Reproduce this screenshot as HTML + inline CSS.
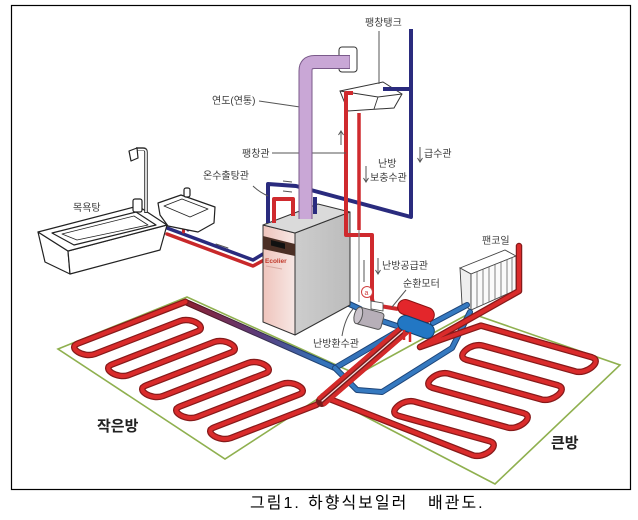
<!DOCTYPE html>
<html><head><meta charset="utf-8"><style>
html,body{margin:0;padding:0;background:#fff;}
svg{display:block;}
.lb{font-family:"Liberation Sans","Noto Sans CJK KR",sans-serif;font-size:10px;fill:#3a3a3a;}
.big{font-family:"Liberation Sans","Noto Sans CJK KR",sans-serif;font-size:15px;font-weight:bold;fill:#222;}
.cap{font-family:"Liberation Sans","Noto Sans CJK KR",sans-serif;font-size:16px;fill:#000;letter-spacing:2px;}
</style></head><body>
<svg width="638" height="520" viewBox="0 0 638 520" xmlns="http://www.w3.org/2000/svg">
<defs>
<linearGradient id="g1" gradientUnits="userSpaceOnUse" x1="185" y1="0" x2="335" y2="0">
<stop offset="0" stop-color="#8e2030"/><stop offset="0.5" stop-color="#5a3c7c"/><stop offset="0.9" stop-color="#3373ba"/></linearGradient>
<linearGradient id="g1d" gradientUnits="userSpaceOnUse" x1="185" y1="0" x2="335" y2="0">
<stop offset="0" stop-color="#5a1018"/><stop offset="0.9" stop-color="#1d4478"/></linearGradient>
<linearGradient id="front" x1="0" y1="0" x2="1" y2="0">
<stop offset="0" stop-color="#efc4bc"/><stop offset="1" stop-color="#f7e7e4"/></linearGradient>
<linearGradient id="side" x1="0" y1="0" x2="1" y2="0">
<stop offset="0" stop-color="#cdcdcd"/><stop offset="1" stop-color="#bcbcbc"/></linearGradient>
</defs>
<rect width="638" height="520" fill="#fff"/>
<rect x="11.5" y="5.5" width="619" height="484" fill="none" stroke="#000" stroke-width="1.2"/>

<!-- zones -->
<polygon points="58,349 187,297 356,374 225,459" fill="none" stroke="#8fb04f" stroke-width="1.6"/>
<polygon points="322,394 470,313 620,365 495,484" fill="none" stroke="#8fb04f" stroke-width="1.6"/>

<!-- radiator -->
<polygon points="460,268 505,250 516,256 471,274" fill="#fff" stroke="#444" stroke-width="0.9"/>
<polygon points="460,268 471,274 471,310 462,304" fill="#eee" stroke="#444" stroke-width="0.9"/>
<polygon points="471,274 516,256 516,290 471,310" fill="#fafafa" stroke="#444" stroke-width="0.9"/>
<path d="M477,271.6V307.3M483,269.2V304.7M489,266.8V302M495,264.4V299.3M501,262V296.7M507,259.6V294M512,257.6V291.8" stroke="#666" stroke-width="0.8"/>

<!-- lower blue pipes -->
<g fill="none" stroke-linejoin="round" stroke-linecap="round">
<path d="M185.5,302 L335,368 L400,330" stroke="url(#g1d)" stroke-width="6.2"/>
<path d="M185.5,302 L335,368 L400,330" stroke="url(#g1)" stroke-width="4.2"/>
<path d="M335,368 L357,390 L382,392 L452,348 L470,312" stroke="#1d4478" stroke-width="6"/>
<path d="M335,368 L357,390 L382,392 L452,348 L470,312" stroke="#3579c0" stroke-width="4"/>
<path d="M433,323 L467,305" stroke="#1d4478" stroke-width="6"/>
<path d="M433,323 L467,305" stroke="#3579c0" stroke-width="4"/>
<path d="M345,302 L360,309 M382,321 L400,327" stroke="#1d4478" stroke-width="6"/>
<path d="M345,302 L360,309 M382,321 L400,327" stroke="#3579c0" stroke-width="4"/>

<!-- serpentines -->
<path d="M185.5,301.8 L77.9,343.5 C66.7,347.8 83.7,358.3 94.9,354 L180.1,321 C191.3,316.7 208.3,327.2 197.1,331.5 L111.9,364.5 C100.7,368.8 117.7,379.3 128.9,375 L214.1,342 C225.3,337.7 242.3,348.2 231.1,352.5 L145.9,385.5 C134.7,389.8 151.7,400.3 162.9,396 L248.1,363 C259.3,358.7 276.3,369.2 265.1,373.5 L179.9,406.5 C168.7,410.8 185.7,421.3 196.9,417 L282.1,384 C293.3,379.7 310.3,390.2 299.1,394.5 L213.9,427.5 C202.7,431.8 219.7,442.3 230.9,438 L316.1,405 L327,398" stroke="#861a1a" stroke-width="6.5"/>
<path d="M185.5,301.8 L77.9,343.5 C66.7,347.8 83.7,358.3 94.9,354 L180.1,321 C191.3,316.7 208.3,327.2 197.1,331.5 L111.9,364.5 C100.7,368.8 117.7,379.3 128.9,375 L214.1,342 C225.3,337.7 242.3,348.2 231.1,352.5 L145.9,385.5 C134.7,389.8 151.7,400.3 162.9,396 L248.1,363 C259.3,358.7 276.3,369.2 265.1,373.5 L179.9,406.5 C168.7,410.8 185.7,421.3 196.9,417 L282.1,384 C293.3,379.7 310.3,390.2 299.1,394.5 L213.9,427.5 C202.7,431.8 219.7,442.3 230.9,438 L316.1,405 L327,398" stroke="#da2b2b" stroke-width="4"/>
<path d="M519,246 V291 L420,347 L481,325.6 L591.9,357.3 C603.3,361 586.3,375 574.9,371.3 L483.1,345.7 C471.7,342 454.7,356 466.1,359.7 L557.9,385.3 C569.3,389 552.3,403 540.9,399.3 L449.1,373.7 C437.7,370 420.7,384 432.1,387.7 L523.9,413.3 C535.3,417 518.3,431 506.9,427.3 L415.1,401.7 C403.7,398 386.7,412 398.1,415.7 L489.9,441.3 C501.3,445 484.3,459 472.9,455.3 L327,398" stroke="#861a1a" stroke-width="6.5"/>
<path d="M519,246 V291 L420,347 L481,325.6 L591.9,357.3 C603.3,361 586.3,375 574.9,371.3 L483.1,345.7 C471.7,342 454.7,356 466.1,359.7 L557.9,385.3 C569.3,389 552.3,403 540.9,399.3 L449.1,373.7 C437.7,370 420.7,384 432.1,387.7 L523.9,413.3 C535.3,417 518.3,431 506.9,427.3 L415.1,401.7 C403.7,398 386.7,412 398.1,415.7 L489.9,441.3 C501.3,445 484.3,459 472.9,455.3 L327,398" stroke="#da2b2b" stroke-width="4"/>

<!-- bundle -->
<path d="M322,401 L404,330" stroke="#7a1c1c" stroke-width="12"/>
<path d="M319.3,398 L401.3,327" stroke="#d42a2a" stroke-width="4"/>
<path d="M324.7,404 L406.7,333" stroke="#d42a2a" stroke-width="4"/>
<path d="M322,401 L404,330" stroke="#f6e2e2" stroke-width="1.2"/>

<!-- bathroom pipes -->
<path d="M263,254 L253,260 L167,228" stroke="#2a2b7e" stroke-width="3.5"/>
<path d="M264,260 L253,266 L167,234" stroke="#c8282a" stroke-width="3.5"/>
<path d="M188,230 V216" stroke="#2a2b7e" stroke-width="3"/>
<path d="M183.5,232 V216" stroke="#c8282a" stroke-width="3"/>
<path d="M216,244 L228,248" stroke="#555" stroke-width="1"/>
</g>

<!-- bathtub -->
<g fill="#fff" stroke="#222" stroke-width="1.2" stroke-linejoin="round">
<polygon points="38,232 68,251 70,274 45,262"/>
<polygon points="68,251 167,225 160,250 70,274"/>
<polygon points="38,232 138,206 167,225 68,251"/>
<polygon points="52,233 136,212 156,225 74,245"/>
<polygon points="62,234 134,216 148,225 77,240" fill="none" stroke-width="0.8"/>
<path d="M146,213 V152 Q146,149 143,149 H136" fill="none" stroke="#333" stroke-width="3.6"/>
<path d="M146,212 V152 Q146,149.5 143,149.5 H137" fill="none" stroke="#fff" stroke-width="1.6"/>
<polygon points="129,151 137,148 138,158 131,161"/>
<rect x="133" y="199" width="9" height="13" rx="2"/>
<polygon points="158,203 181,195 215,207 214,223 198,232 168,226 160,215"/>
<polygon points="164,206 182,199 208,209 190,217" stroke-width="0.9"/>
<rect x="184" y="188" width="6" height="9" rx="2"/>
</g>

<!-- boiler -->
<g stroke="#333" stroke-width="1" stroke-linejoin="round">
<polygon points="295,233 350,212 350,305 295,335" fill="url(#side)"/>
<polygon points="263,225 295,233 295,335 263,322" fill="url(#front)"/>
<polygon points="263,225 318,204 350,212 295,233" fill="#dadada"/>
<polygon points="263,236 295,244 295,256 263,249" fill="#4b2f25" stroke="none"/>
<polygon points="271,240 285,243.5 285,249 271,245.5" fill="#111" stroke="none"/>
</g>
<text x="265" y="263" font-family="Liberation Sans,sans-serif" font-size="6.5" font-weight="bold" fill="#c0392b">Ecolier</text>
<path d="M266,266 L282,269" stroke="#d8a8a0" stroke-width="1"/>

<!-- tank -->
<polygon points="340,91 383,82 402,94 394,108 348,111" fill="#fff" stroke="#333" stroke-width="1"/>
<path d="M340,91 L378,97 L402,94 M378,97 L374,109" fill="none" stroke="#333" stroke-width="0.9"/>

<!-- upper pipes -->
<g fill="none" stroke-linejoin="round">
<path d="M268,223 V184 L296,186 L411,217 V29" stroke="#2a2b7e" stroke-width="4"/>
<path d="M315,197 V214" stroke="#2a2b7e" stroke-width="4"/>
<path d="M383,89 H411" stroke="#2a2b7e" stroke-width="4"/>
<path d="M274,223 V199 H293 V216" stroke="#cf2a2e" stroke-width="4"/>
<path d="M353,93 H346 V235 H372 V298 Q372,305 380,306 L398,309" stroke="#cf2a2e" stroke-width="4"/>
<path d="M359,113 V230" stroke="#cf2a2e" stroke-width="3.5"/>
<path d="M359,230 V302" stroke="#888" stroke-width="1.2"/>
</g>

<!-- leader lines -->
<g stroke="#555" stroke-width="1" fill="none">
<path d="M379,31 V84"/>
<path d="M259,101 L300,107"/>
<path d="M272,153 H346"/>
<path d="M253,186 Q259,192 268,196"/>
<path d="M406,290 L392,307"/>
<path d="M342,336 Q345,318 353,309"/>
<path d="M283,181 L292,182 M283,191 L292,192"/>
<path d="M341,145 V132 M338.5,135 L341,131 L343.5,135"/>
<path d="M420,147 V161 M417.5,158 L420,162 L422.5,158"/>
<path d="M366,166 V181 M363.5,178 L366,182 L368.5,178"/>
<path d="M378,258 V273 M375.5,270 L378,274 L380.5,270"/>
<path d="M364,260 V282"/>
</g>

<!-- chimney -->
<rect x="339" y="47" width="18" height="25" rx="3" fill="#fff" stroke="#333" stroke-width="1"/>
<path d="M305.5,219 V71 Q305.5,62 314.5,62 H350" fill="none" stroke="#7a5a8a" stroke-width="14"/>
<path d="M305.5,219 V71 Q305.5,62 314.5,62 H349.5" fill="none" stroke="#c9a7d6" stroke-width="12"/>

<!-- manifold & motor -->
<g transform="rotate(20 416 311)"><rect x="397" y="303.5" width="38" height="15" rx="7.5" fill="#e3262b" stroke="#8a1212"/></g>
<g transform="rotate(20 416 327)"><rect x="397" y="319.5" width="38" height="15" rx="7.5" fill="#2277c4" stroke="#10406f"/></g>
<path d="M404,330 V340 M410,332 V342" stroke="#d42a2a" stroke-width="2.5"/>
<polygon points="371,301 383,303 383,311 371,309" fill="#fff" stroke="#555" stroke-width="0.9"/>
<g transform="rotate(15 370 318)"><rect x="357" y="310" width="26" height="17" rx="3" fill="#b7afb8" stroke="#555"/><ellipse cx="358" cy="318.5" rx="4" ry="8.5" fill="#cbc4cc" stroke="#555"/></g>
<circle cx="367" cy="292" r="5.5" fill="#fff" stroke="#d04040" stroke-width="1"/>
<text x="364.5" y="295" font-family="Liberation Sans,sans-serif" font-size="7" fill="#d04040">a</text>

<!-- labels -->
<text class="lb" x="365" y="26">팽창탱크</text>
<text class="lb" x="212" y="104">연도(연통)</text>
<text class="lb" x="242" y="157">팽창관</text>
<text class="lb" x="203" y="179">온수출탕관</text>
<text class="lb" x="73" y="211">목욕탕</text>
<text class="lb" x="424" y="157">급수관</text>
<text class="lb" x="378" y="167">난방</text>
<text class="lb" x="370" y="181">보충수관</text>
<text class="lb" x="382" y="269">난방공급관</text>
<text class="lb" x="403" y="287">순환모터</text>
<text class="lb" x="313" y="347">난방환수관</text>
<text class="lb" x="482" y="244">팬코일</text>
<text class="big" x="97" y="431">작은방</text>
<text class="big" x="551" y="448">큰방</text>

<!-- caption -->
<text class="cap" x="250" y="508">그림1.</text>
<text class="cap" x="308" y="508">하향식보일러</text>
<text class="cap" x="428" y="508">배관도.</text>
</svg>
</body></html>
